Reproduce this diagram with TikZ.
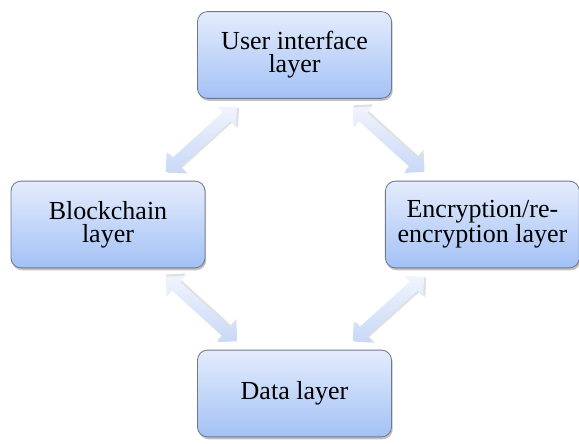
\documentclass[tikz,border=0pt]{standalone}
\usepackage{fontspec}
\setmainfont{Liberation Serif}
\usepackage{tikz}
\usetikzlibrary{calc,shadows}

\definecolor{layertop}{RGB}{228,236,252}
\definecolor{layerbot}{RGB}{163,193,246}
\definecolor{layerrim}{RGB}{112,120,138}
\definecolor{linklight}{RGB}{240,244,253}
\definecolor{linkblue}{RGB}{200,216,247}

\begin{document}
\begin{tikzpicture}[
    layer/.style={draw=layerrim, line width=0.6pt, rounded corners=0.25cm,
        top color=layertop, bottom color=layerbot,
        minimum width=4.85cm, minimum height=2.17cm, align=center,
        font=\fontsize{18.5}{16.5}\selectfont,
        drop shadow={shadow xshift=0.03cm, shadow yshift=-0.06cm, fill=black!70, opacity=0.35}},
    link/.pic={
        % two-headed block arrow along the local x axis
        \fill[black, opacity=0.12, shift={(0.03,-0.05)}]
            (-1.2,0) -- (-0.85,0.35) -- (-0.85,0.15) -- (0.85,0.15) -- (0.85,0.35) -- (1.2,0)
            -- (0.85,-0.35) -- (0.85,-0.15) -- (-0.85,-0.15) -- (-0.85,-0.35) -- cycle;
        \shade[top color=linklight, bottom color=linkblue]
            (-1.2,0) -- (-0.85,0.35) -- (-0.85,0.15) -- (0.85,0.15) -- (0.85,0.35) -- (1.2,0)
            -- (0.85,-0.35) -- (0.85,-0.15) -- (-0.85,-0.15) -- (-0.85,-0.35) -- cycle;
    }
]
\useasboundingbox (0,0) rectangle (14.475,-11.075);
\node[layer] (ui) at (7.3625,-1.375) {User interface\\layer};
\node[layer] (bc) at (2.7,-5.6125) {Blockchain\\layer};
\node[layer] (enc) at (12.06,-5.6125) {Encryption/re-\\encryption layer};
\node[layer] (data) at (7.3625,-9.8375) {Data layer};
% two-way links, each one centred between a pair of layers
\foreach \a/\b in {bc/ui, enc/ui, data/bc, data/enc}
    \path let \p1=($(\b)-(\a)$), \n1={atan2(\y1,\x1)} in
        pic[rotate=\n1] at ($(\a)!0.5!(\b)$) {link};
\end{tikzpicture}
\end{document}
